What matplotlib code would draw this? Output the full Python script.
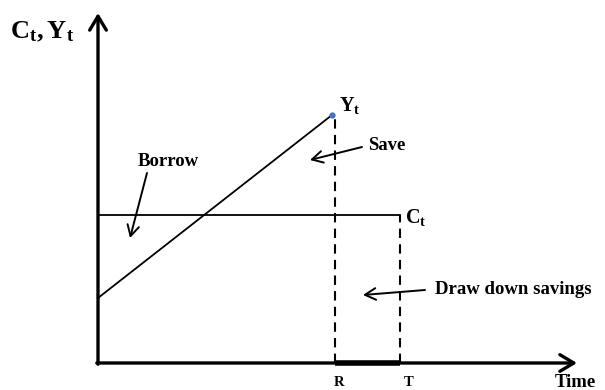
import matplotlib
matplotlib.use("Agg")
import matplotlib.pyplot as plt

# fuentes tipo Times en negrita
plt.rcParams['font.family'] = ['Liberation Serif', 'DejaVu Serif']
plt.rcParams['font.weight'] = 'bold'
plt.rcParams['mathtext.fontset'] = 'custom'
plt.rcParams['mathtext.rm'] = 'Liberation Serif:bold'
plt.rcParams['mathtext.bf'] = 'Liberation Serif:bold'
plt.rcParams['mathtext.it'] = 'Liberation Serif:bold'

# datos del diagrama (unidades arbitrarias, origen en la esquina de los ejes)
income_time = [0, 234]
income = [65, 248]
consumption_time = [0, 302]
consumption = [148, 148]
R = 237
T = 302
x_max = 479
y_max = 350

fig = plt.figure(figsize=(6.05, 3.9), dpi=100)
ax = fig.add_axes([0, 0, 1, 1])
ax.set_xlim(-98, 507)
ax.set_ylim(-27, 363)
ax.axis('off')

# ejes con flecha
axis_arrow = dict(arrowstyle='->,head_length=0.5,head_width=0.3', lw=2.4,
                  color='black', shrinkA=0, shrinkB=0, mutation_scale=20)
ax.annotate('', xy=(0, y_max), xytext=(0, -1.2), arrowprops=axis_arrow)
ax.annotate('', xy=(x_max, 0), xytext=(-1.2, 0), arrowprops=axis_arrow)

# ingreso y consumo
ax.plot(income_time, income, color='black', lw=1.3)
ax.plot(income_time[-1:], income[-1:], 'o', color='#4472c4', ms=3.5)
ax.plot(consumption_time, consumption, color='black', lw=1.3)

# líneas punteadas hasta R y T
ax.plot([R, R], [0, income[-1]], color='black', lw=1.5, ls=(0, (4.5, 3)))
ax.plot([T, T], [0, consumption[-1]], color='black', lw=1.5, ls=(0, (4.5, 3)))
ax.plot([R, T], [0, 0], color='black', lw=4, solid_capstyle='butt')

# etiquetas
ax.text(-88, 331, r'$\mathbf{C_t, Y_t}$', fontsize=19, ha='left', va='center')
ax.text(241, 258, r'$\mathbf{Y_t}$', fontsize=14.5, ha='left', va='center')
ax.text(307, 146, r'$\mathbf{C_t}$', fontsize=14.5, ha='left', va='center')
ax.text(R + 4, -19, 'R', fontsize=10.5, ha='center', va='center')
ax.text(T + 9, -19, 'T', fontsize=10.5, ha='center', va='center')
ax.text(457, -11, 'Time', fontsize=13.5, ha='left', va='top')

note_arrow = dict(arrowstyle='->,head_length=0.55,head_width=0.3', lw=1.4,
                  color='black', shrinkA=0, shrinkB=0, mutation_scale=14)
ax.text(40, 201, 'Borrow', fontsize=13.5, ha='left', va='center')
ax.annotate('', xy=(32, 125), xytext=(49, 190), arrowprops=note_arrow)
ax.text(270, 218, 'Save', fontsize=13.5, ha='left', va='center')
ax.annotate('', xy=(212, 203), xytext=(264, 216), arrowprops=note_arrow)
ax.text(337, 73, 'Draw down savings', fontsize=13.5, ha='left', va='center')
ax.annotate('', xy=(265, 68), xytext=(327, 73), arrowprops=note_arrow)

plt.savefig('out.png', dpi=100)
